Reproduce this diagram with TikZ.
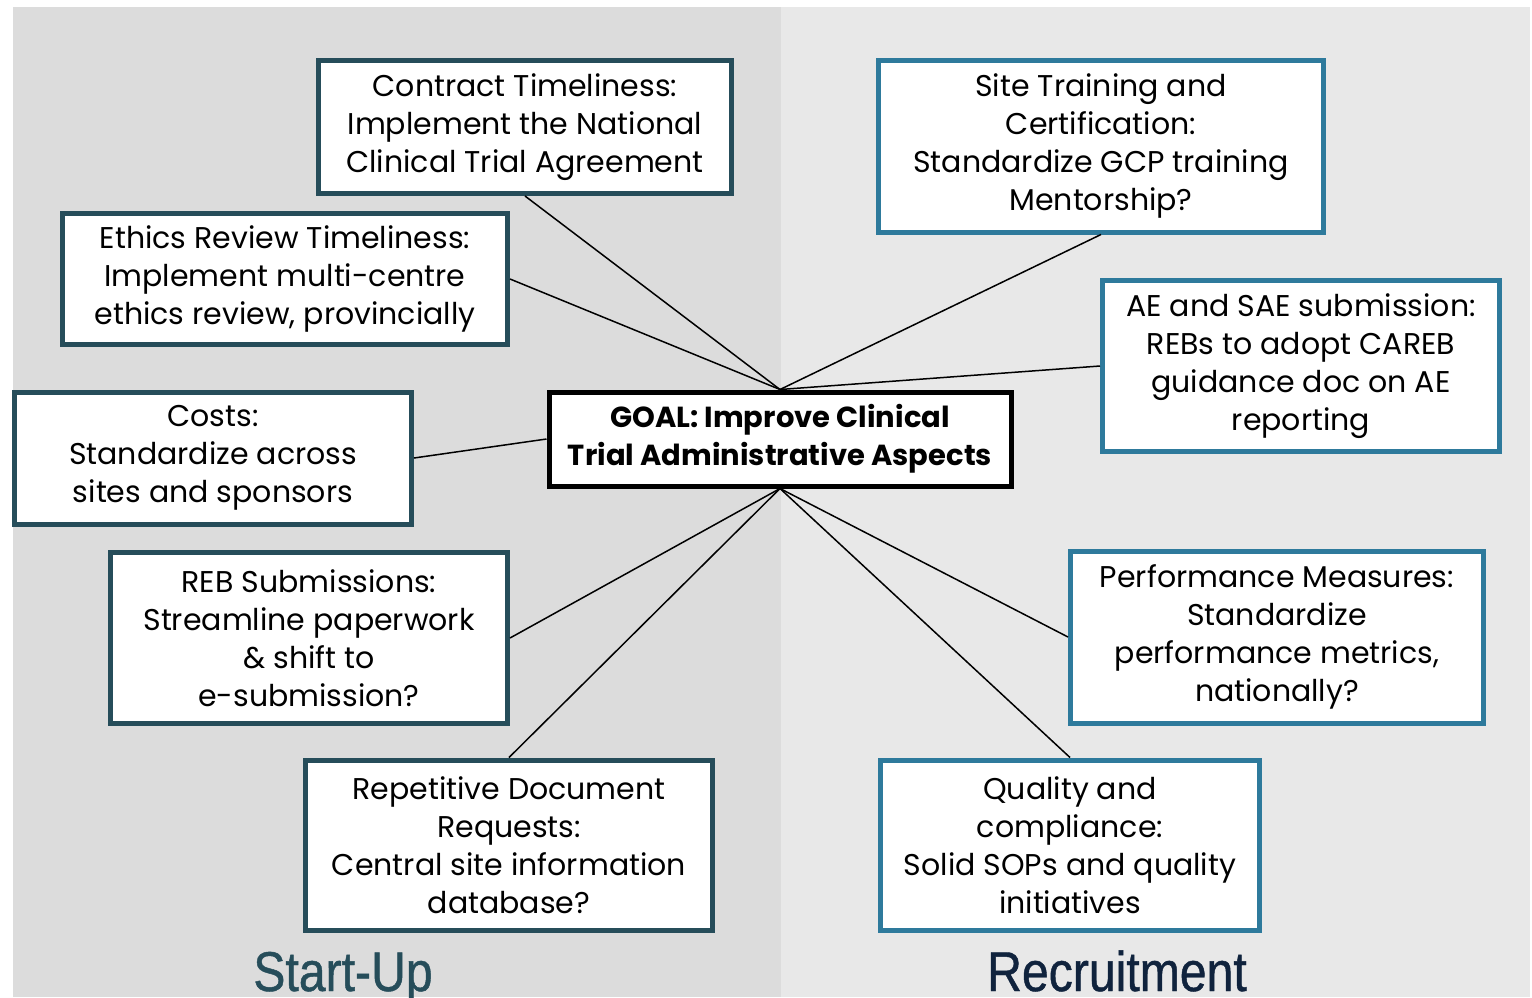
\documentclass[tikz,border=0pt]{standalone}
\usepackage{fontspec}
\setmainfont{Poppins}
\newfontfamily\headfont[FakeStretch=0.86,FakeBold=0.8]{Liberation Sans}
\definecolor{leftbg}{HTML}{DCDCDC}
\definecolor{rightbg}{HTML}{E8E8E8}
\definecolor{startupcol}{HTML}{264D5A}
\definecolor{recruitcol}{HTML}{2E7A9C}
\definecolor{recruittext}{HTML}{10233D}
\tikzset{
    topic/.style={fill=white,line width=5pt,align=center,inner sep=0pt,
        font=\fontsize{30}{38}\selectfont},
    startbox/.style={topic,draw=startupcol},
    recruitbox/.style={topic,draw=recruitcol},
    goalbox/.style={topic,draw=black,font=\fontsize{29}{38}\selectfont\bfseries},
    link/.style={draw=black,line width=1.5pt}
}

\begin{document}
\begin{tikzpicture}[x=1pt,y=-1pt]
\useasboundingbox (0,0) rectangle (1532,997);
\fill[leftbg] (13,7) rectangle (781,997);
\fill[rightbg] (781,7) rectangle (1530,997);
% centre
\node[goalbox,minimum width=462pt,minimum height=94pt] (goal) at (780,439)
    {GOAL: Improve Clinical\\Trial Administrative Aspects};
% start-up side
\begin{scope}[every node/.style={startbox}]
    \node[minimum width=413pt,minimum height=133pt] (contract) at (525,127)
        {Contract Timeliness:\\Implement the National\\Clinical Trial Agreement};
    \node[minimum width=445pt,minimum height=131pt] (ethics) at (285,279)
        {Ethics Review Timeliness:\\Implement multi-centre\\ethics review, provincially};
    \node[minimum width=397pt,minimum height=132pt] (costs) at (213,458)
        {Costs:\\Standardize across\\sites and sponsors};
    \node[minimum width=397pt,minimum height=171pt] (reb) at (309,638)
        {REB Submissions:\\Streamline paperwork\\\& shift to\\e-submission?};
    \node[minimum width=407pt,minimum height=170pt] (repeat) at (509,845)
        {Repetitive Document\\Requests:\\Central site information\\database?};
\end{scope}
% recruitment side
\begin{scope}[every node/.style={recruitbox}]
    \node[minimum width=445pt,minimum height=172pt] (training) at (1101,146)
        {Site Training and\\Certification:\\Standardize GCP training\\Mentorship?};
    \node[minimum width=397pt,minimum height=171pt] (aesae) at (1301,366)
        {AE and SAE submission:\\REBs to adopt CAREB\\guidance doc on AE\\reporting};
    \node[minimum width=413pt,minimum height=172pt] (perf) at (1277,637)
        {Performance Measures:\\Standardize\\performance metrics,\\nationally?};
    \node[minimum width=379pt,minimum height=170pt] (quality) at (1070,845)
        {Quality and\\compliance:\\Solid SOPs and quality\\initiatives};
\end{scope}
\begin{scope}[every path/.style={link}]
    \path (contract.south) edge (goal.north);
    \path (ethics.east) edge (goal.north);
    \path (training.south) edge (goal.north);
    \path (aesae.west) edge (goal.north);
    \path (costs.east) edge (goal.west);
    \path (reb.east) edge (goal.south);
    \path (repeat.north) edge (goal.south);
    \path (perf.west) edge (goal.south);
    \path (quality.north) edge (goal.south);
\end{scope}
% panel titles
\node[anchor=base,text=startupcol,font=\headfont\fontsize{56}{64}\selectfont] (startup) at (343,991) {Start-Up};
\node[anchor=base,text=recruittext,font=\headfont\fontsize{56}{64}\selectfont] (recruit) at (1117,991) {Recruitment};
\end{tikzpicture}
\end{document}
